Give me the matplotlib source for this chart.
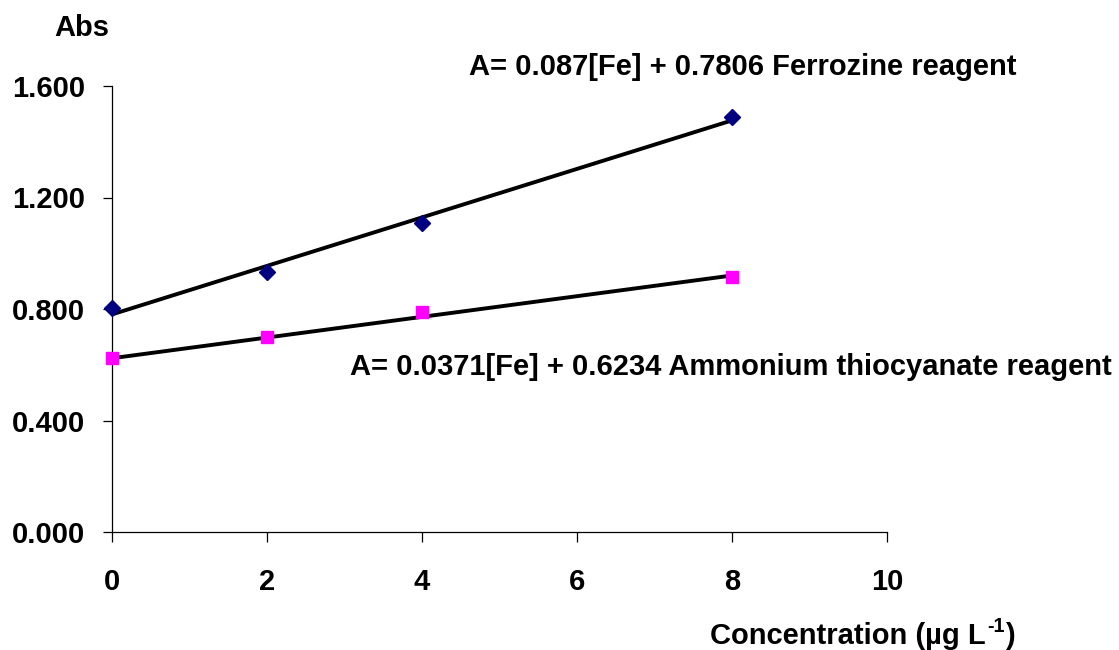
import numpy as np
import matplotlib
matplotlib.use("Agg")
import matplotlib.pyplot as plt

# ============================================================
# DATA
# ============================================================

conc = [0, 2, 4, 8]

abs_ferrozine = [0.804, 0.933, 1.109, 1.489]
abs_thiocyanate = [0.624, 0.700, 0.789, 0.915]

# trend lines (slope, intercept) as printed on the chart
fit_ferrozine = (0.087, 0.7806)
fit_thiocyanate = (0.0371, 0.6234)

label_ferrozine = "A= 0.087[Fe] + 0.7806 Ferrozine reagent"
label_thiocyanate = "A= 0.0371[Fe] + 0.6234 Ammonium thiocyanate reagent"

x_ticks = [0, 2, 4, 6, 8, 10]
y_ticks = [0.0, 0.4, 0.8, 1.2, 1.6]

# ============================================================
# PLOT
# ============================================================

plt.rcParams['font.family'] = ['Liberation Sans', 'DejaVu Sans']
plt.rcParams['font.weight'] = 'bold'

W, H = 1119, 650
FS = 21
fig = plt.figure(figsize=(W / 100, H / 100), dpi=100)
ax = fig.add_axes([112 / W, (H - 532) / H, (887 - 112) / W, (532 - 86) / H])

ax.set_xlim(0, 10)
ax.set_ylim(0, 1.6)

x_fit = np.array([conc[0], conc[-1]])
ax.plot(x_fit, fit_ferrozine[0] * x_fit + fit_ferrozine[1], color='black', lw=2.8, zorder=2)
ax.plot(x_fit, fit_thiocyanate[0] * x_fit + fit_thiocyanate[1], color='black', lw=2.8, zorder=2)

ax.plot(conc, abs_ferrozine, linestyle='none', marker='D', ms=8.3,
        color='#000080', clip_on=False, zorder=3)
ax.plot(conc, abs_thiocyanate, linestyle='none', marker='s', ms=8,
        color='#FF00FF', clip_on=False, zorder=3)

# ============================================================
# AXES
# ============================================================

for side in ['top', 'right']:
    ax.spines[side].set_visible(False)
for side in ['left', 'bottom']:
    ax.spines[side].set_linewidth(0.9)

ax.set_xticks(x_ticks)
ax.set_yticks(y_ticks)
ax.set_yticklabels([f"{v:.3f}" for v in y_ticks])
ax.tick_params(axis='y', direction='out', length=6.5, width=0.9, pad=13, labelsize=FS)
ax.tick_params(axis='x', direction='out', length=7, width=0.9, pad=19, labelsize=FS)

# ============================================================
# TEXT
# ============================================================

fig.text(54 / W, (H - 36) / H, "Abs", fontsize=FS, fontweight='bold', va='baseline')
fig.text(469 / W, (H - 75) / H, label_ferrozine, fontsize=FS, fontweight='bold', va='baseline')
fig.text(350 / W, (H - 375) / H, label_thiocyanate, fontsize=FS, fontweight='bold', va='baseline')

# x label with a plain hyphen superscript
renderer = fig.canvas.get_renderer()
t1 = fig.text(710 / W, (H - 644) / H, "Concentration (µg L", fontsize=FS,
              fontweight='bold', va='baseline')
x1 = t1.get_window_extent(renderer).x1
t2 = fig.text((x1 + 1) / W, (H - 632) / H, "-1", fontsize=FS * 0.68,
              fontweight='bold', va='baseline')
x2 = t2.get_window_extent(renderer).x1
fig.text((x2 + 1) / W, (H - 644) / H, ")", fontsize=FS, fontweight='bold', va='baseline')

plt.savefig("out.png", dpi=100)
